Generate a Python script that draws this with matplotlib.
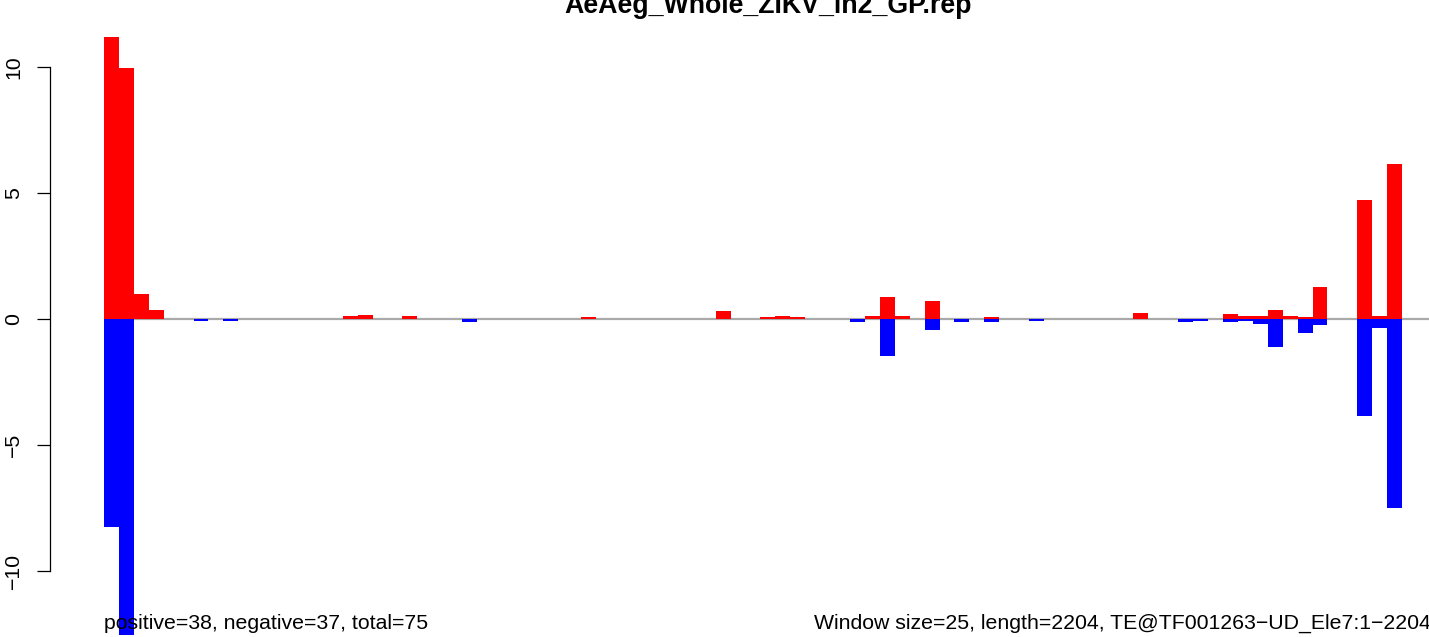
import matplotlib
matplotlib.use("Agg")
import matplotlib.pyplot as plt

plt.rcParams['font.family'] = ['Liberation Sans', 'DejaVu Sans']

title = "AeAeg_Whole_ZIKV_ln2_GP.rep"
left_note = "positive=38, negative=37, total=75"
right_note = "Window size=25, length=2204, TE@TF001263\u2212UD_Ele7:1\u22122204"

n_windows = 89
window_index = [0, 1, 2, 3, 6, 8, 16, 17, 20, 24, 32, 41, 44, 45, 46, 50, 51, 52, 53,
                55, 57, 59, 62, 69, 72, 73, 75, 76, 77, 78, 79, 80, 81, 84, 85, 86]
positive_vals = [11.19, 9.96, 0.99, 0.36, 0, 0, 0.12, 0.17, 0.12, 0, 0.08, 0.32, 0.08, 0.12, 0.08,
                 0, 0.12, 0.87, 0.12, 0.71, 0, 0.08, 0, 0.24, 0, 0, 0.2, 0.12, 0.12, 0.36,
                 0.12, 0.08, 1.27, 4.72, 0.12, 6.15]
negative_vals = [-8.24, -12.55, 0, 0, -0.08, -0.08, 0, 0, 0, -0.1, 0, 0, 0, 0, 0,
                 -0.12, 0, -1.47, 0, -0.44, -0.12, -0.12, -0.08, 0, -0.12, -0.08, -0.12, -0.08, -0.2, -1.11,
                 0, -0.56, -0.24, -3.85, -0.36, -7.5]
y_ticks = [-10, -5, 0, 5, 10]

W, H = 1429, 637
fig = plt.figure(figsize=(W / 100, H / 100), dpi=100)

px_per_bar = 14.92
x0_px = 104
ax_left_px = 50
ax = fig.add_axes([ax_left_px / W, 0, 1 - ax_left_px / W, 1])
ax.set_xlim((ax_left_px - x0_px) / px_per_bar, (W - x0_px) / px_per_bar)
px_per_unit = 25.2
zero_px = 319
ax.set_ylim(-(H - zero_px) / px_per_unit, zero_px / px_per_unit)

ax.plot([0, n_windows + 5], [0, 0], color='#a9a9a9', lw=1.6, zorder=1, solid_capstyle='butt')
ax.bar(window_index, positive_vals, width=1.0, align='edge', color='#ff0000', linewidth=0, zorder=2)
ax.bar(window_index, negative_vals, width=1.0, align='edge', color='#0000ff', linewidth=0, zorder=2)

for s in ['top', 'right', 'bottom']:
    ax.spines[s].set_visible(False)
ax.spines['left'].set_bounds(-10, 10)
ax.spines['left'].set_linewidth(0.9)
ax.set_xticks([])
ax.set_yticks(y_ticks)
ax.set_yticklabels([str(t).replace('-', '\u2212') for t in y_ticks], rotation=90, va='center')
ax.tick_params(axis='y', length=9.4, width=0.9, pad=10, labelsize=15.3)

fig.text(768 / W, 1 - 13 / H, title, ha='center', va='baseline', fontsize=19.3, fontweight='bold')
fig.text(x0_px / W, 1 - 629 / H, left_note, ha='left', va='baseline', fontsize=15.3)
fig.text(1431 / W, 1 - 629 / H, right_note, ha='right', va='baseline', fontsize=15.3)

fig.savefig('out.png', dpi=100)
